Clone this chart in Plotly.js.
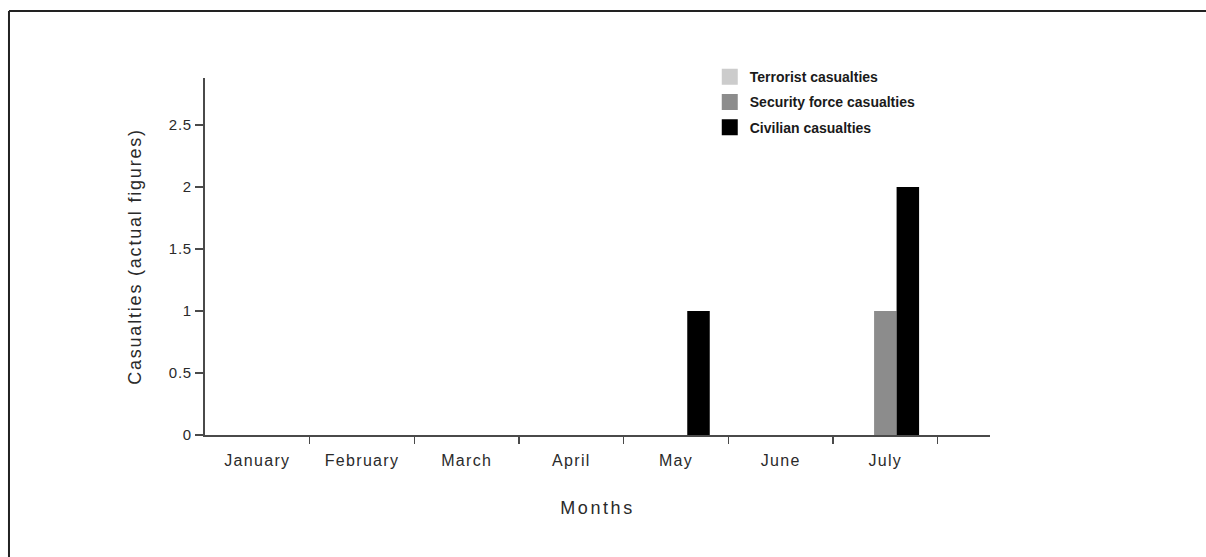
<!DOCTYPE html>
<html>
<head>
<meta charset="utf-8">
<script src="https://cdn.plot.ly/plotly-3.0.1.min.js"></script>
<style>
  html, body { margin: 0; padding: 0; background: #fff; }
  #chart { width: 1206px; height: 557px; }
  .xtick text { letter-spacing: 1.3px; }
  .ytick text { letter-spacing: 0.8px; }
  .g-xtitle text { letter-spacing: 2.6px; }
  .g-ytitle text { letter-spacing: 1.8px; }
  .legend .traces:nth-of-type(1) .legendpoints path { stroke: #cccccc !important; stroke-width: 4px !important; }
  .legend .traces:nth-of-type(2) .legendpoints path { stroke: #8c8c8c !important; stroke-width: 4px !important; }
  .legend .traces:nth-of-type(3) .legendpoints path { stroke: #000000 !important; stroke-width: 4px !important; }
  .legend .groups:nth-of-type(1) .legendpoints path { stroke: #cccccc !important; stroke-width: 4px !important; }
  .legend .groups:nth-of-type(2) .legendpoints path { stroke: #8c8c8c !important; stroke-width: 4px !important; }
  .legend .groups:nth-of-type(3) .legendpoints path { stroke: #000000 !important; stroke-width: 4px !important; }
</style>
</head>
<body>
<div id="chart"></div>
<script>
const months = ["January", "February", "March", "April", "May", "June", "July"];
const terrorist = [0, 0, 0, 0, 0, 0, 0];
const security = [0, 0, 0, 0, 0, 0, 1];
const civilian = [0, 0, 0, 0, 1, 0, 2];
const yTicks = [0, 0.5, 1, 1.5, 2, 2.5];
const boundaryTicks = [0.5, 1.5, 2.5, 3.5, 4.5, 5.5, 6.5];

const axisColor = "#4a4a4a";
const textColor = "#2a2a2a";

const traces = [
  { type: "bar", name: "Terrorist casualties", x: months, y: terrorist,
    marker: { color: "#cccccc" }, legendgroup: "a", hoverinfo: "skip" },
  { type: "bar", name: "Security force casualties", x: months, y: security,
    marker: { color: "#8c8c8c" }, legendgroup: "b", hoverinfo: "skip" },
  { type: "bar", name: "Civilian casualties", x: months, y: civilian,
    marker: { color: "#000000" }, legendgroup: "c", hoverinfo: "skip" },
  { type: "scatter", mode: "markers", x: [], y: [], xaxis: "x2", yaxis: "y",
    showlegend: false, hoverinfo: "skip" }
];

const layout = {
  width: 1206, height: 557,
  margin: { l: 205, r: 216, t: 78, b: 122, pad: 0 },
  paper_bgcolor: "#ffffff", plot_bgcolor: "#ffffff",
  font: { family: "Liberation Sans, Arial, sans-serif", color: textColor },
  barmode: "group",
  bargap: 0.355, bargroupgap: 0,
  showlegend: true,
  legend: {
    x: 0.643, xanchor: "left", y: 1.047, yanchor: "top",
    font: { size: 14, color: "#1a1a1a", weight: "bold" },
    bgcolor: "rgba(0,0,0,0)", tracegroupgap: 4, traceorder: "grouped"
  },
  xaxis: {
    type: "category", range: [-0.5, 7.0],
    showline: true, linecolor: axisColor, linewidth: 2,
    ticks: "", showgrid: false, zeroline: false,
    tickfont: { size: 16, color: textColor },
    ticklabelstandoff: 10,
    title: { text: "Months", font: { size: 18, color: textColor }, standoff: 33 },
    fixedrange: true
  },
  xaxis2: {
    overlaying: "x", anchor: "y", side: "bottom", type: "linear",
    range: [-0.5, 7.0], tickmode: "array", tickvals: boundaryTicks,
    showticklabels: false, ticks: "outside", ticklen: 8, tickwidth: 1.5,
    tickcolor: axisColor, showgrid: false, zeroline: false, showline: false,
    fixedrange: true
  },
  yaxis: {
    range: [0, 2.88], tickmode: "array", tickvals: yTicks,
    ticktext: yTicks.map(v => String(v)),
    showline: true, linecolor: axisColor, linewidth: 2,
    ticks: "outside", ticklen: 8, tickwidth: 1.5, tickcolor: axisColor,
    showgrid: false, zeroline: false,
    tickfont: { size: 15, color: textColor },
    title: { text: "Casualties (actual figures)", font: { size: 18, color: textColor }, standoff: 22 },
    fixedrange: true
  },
  shapes: [
    { type: "line", xref: "paper", yref: "paper",
      x0: -0.2497, x1: -0.2497, y0: 1.1877, y1: -0.345,
      line: { color: "#222222", width: 2 } },
    { type: "line", xref: "paper", yref: "paper",
      x0: -0.2497, x1: 1.28, y0: 1.1877, y1: 1.1877,
      line: { color: "#222222", width: 2 } }
  ]
};

Plotly.newPlot("chart", traces, layout, { displayModeBar: false, staticPlot: true });
</script>
</body>
</html>
